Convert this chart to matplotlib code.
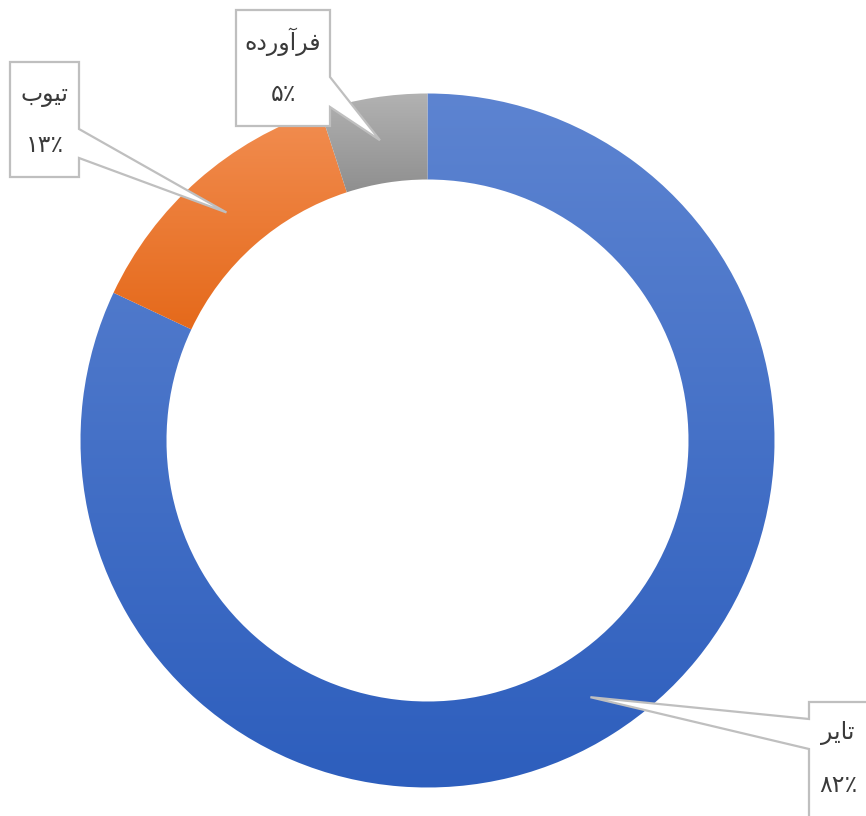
import numpy as np
import matplotlib
matplotlib.use("Agg")
from matplotlib import pyplot as plt
from matplotlib.colors import to_rgb
from matplotlib.patches import Polygon

# data
labels = ["تایر", "تیوب", "فرآورده"]
values = [82, 13, 5]
pct_text = ["۸۲٪", "۱۳٪", "۵٪"]
color_top = ["#5d84d1", "#f28e52", "#b3b3b3"]
color_bottom = ["#2d5ebd", "#e5691a", "#8e8e8e"]

# presentation forms: isolated, final, initial, medial
FORMS = {
    "ت": ("\uFE95", "\uFE96", "\uFE97", "\uFE98"),
    "ب": ("\uFE8F", "\uFE90", "\uFE91", "\uFE92"),
    "ی": ("\uFBFC", "\uFBFD", "\uFBFE", "\uFBFF"),
    "ف": ("\uFED1", "\uFED2", "\uFED3", "\uFED4"),
    "ه": ("\uFEE9", "\uFEEA", "\uFEEB", "\uFEEC"),
    "ا": ("\uFE8D", "\uFE8E"),
    "آ": ("\uFE81", "\uFE82"),
    "ر": ("\uFEAD", "\uFEAE"),
    "د": ("\uFEA9", "\uFEAA"),
    "و": ("\uFEED", "\uFEEE"),
}


def shape(word):
    # simple persian shaping + reverse for left-to-right drawing
    out = []
    for i, ch in enumerate(word):
        f = FORMS[ch]
        prev_joins = i > 0 and len(FORMS[word[i - 1]]) == 4
        next_joins = len(f) == 4 and i < len(word) - 1
        if prev_joins and next_joins:
            out.append(f[3])
        elif next_joins:
            out.append(f[2])
        elif prev_joins:
            out.append(f[1])
        else:
            out.append(f[0])
    return "".join(out[::-1])


W, H = 866, 816
fig = plt.figure(figsize=(W / 100, H / 100), dpi=100)
ax = fig.add_axes([0, 0, 1, 1])

cx, cy = 427.5, H - 440.5
R = 347
ring = 86

wedges, _ = ax.pie(values, startangle=90, counterclock=False, center=(cx, cy),
                   radius=R, wedgeprops=dict(width=ring, linewidth=0), frame=True)

# vertical gradient inside every slice
for w, ct, cb in zip(wedges, color_top, color_bottom):
    w.set_facecolor("none")
    ext = w.get_path().get_extents()
    t = np.linspace(0, 1, 256)[:, None]
    grad = (1 - t) * np.array(to_rgb(cb)) + t * np.array(to_rgb(ct))
    im = ax.imshow(grad[:, None, :],
                   extent=[ext.x0 - 3, ext.x1 + 3, ext.y0 - 3, ext.y1 + 3],
                   origin="lower", aspect="auto", interpolation="bilinear", zorder=1)
    im.set_clip_path(w)

# callout boxes (pixel coordinates, y downwards)
boxes = [
    dict(x0=809, x1=875, y0=702, y1=830, side="left", n0=719, n1=749,
         tx=838, ty1=733, ty2=785),
    dict(x0=10, x1=79, y0=62, y1=177, side="right", n0=129, n1=158,
         tx=45, ty1=95, ty2=145),
    dict(x0=236, x1=330, y0=10, y1=126, side="right", n0=77, n1=107,
         tx=283, ty1=42, ty2=94),
]

for w, b, lab, pt in zip(wedges, boxes, labels, pct_text):
    mid = np.deg2rad((w.theta1 + w.theta2) / 2)
    rm = R - ring / 2
    tip = (cx + rm * np.cos(mid), cy + rm * np.sin(mid))
    x0, x1 = b["x0"], b["x1"]
    y0, y1 = H - b["y0"], H - b["y1"]
    n0, n1 = H - b["n0"], H - b["n1"]
    if b["side"] == "right":
        verts = [(x0, y0), (x1, y0), (x1, n0), tip, (x1, n1), (x1, y1), (x0, y1)]
    else:
        verts = [(x0, y0), (x1, y0), (x1, y1), (x0, y1), (x0, n1), tip, (x0, n0)]
    ax.add_patch(Polygon(verts, closed=True, facecolor="white", edgecolor="#bfbfbf",
                         linewidth=1.6, zorder=3))
    ax.text(b["tx"], H - b["ty1"], shape(lab), ha="center", va="center",
            fontsize=17, color="#3a3a3a", family=["DejaVu Sans"], zorder=4)
    ax.text(b["tx"], H - b["ty2"], pt, ha="center", va="center",
            fontsize=17, color="#3a3a3a", family=["DejaVu Sans"], zorder=4)

ax.set_xlim(0, W)
ax.set_ylim(0, H)
ax.set_aspect("auto")
ax.axis("off")

fig.savefig("out.png", dpi=100)
